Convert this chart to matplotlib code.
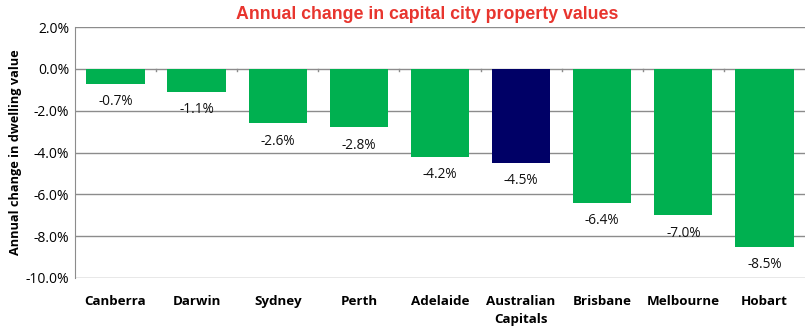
import matplotlib
matplotlib.use("Agg")
import matplotlib.pyplot as plt
from matplotlib.ticker import FuncFormatter

categories = ["Canberra", "Darwin", "Sydney", "Perth", "Adelaide", "Australian\nCapitals",
              "Brisbane", "Melbourne", "Hobart"]
values = [-0.7, -1.1, -2.6, -2.8, -4.2, -4.5, -6.4, -7.0, -8.5]
yticks = [2.0, 0.0, -2.0, -4.0, -6.0, -8.0, -10.0]

plt.rcParams['font.family'] = ['Open Sans', 'DejaVu Sans']

fig = plt.figure(figsize=(8.09, 3.27), dpi=100)
ax = fig.add_axes([0.0927, 0.150, 0.9023, 0.767])

colors = ["#00B050"] * len(values)
colors[categories.index("Australian\nCapitals")] = "#000066"
x = list(range(len(categories)))
ax.bar(x, values, width=0.72, color=colors, zorder=3)

for xi, v in zip(x, values):
    ax.text(xi, v - 0.5, f"{v:.1f}%", ha="center", va="top", fontsize=9.8, color="#111111", zorder=4)

ax.set_xlim(-0.5, len(categories) - 0.5)
ax.set_ylim(-10, 2)
ax.set_yticks(yticks)
ax.yaxis.set_major_formatter(FuncFormatter(lambda v, p: f"{v:.1f}%"))
ax.grid(axis="y", color="#8c8c8c", linewidth=1, zorder=0)
ax.set_axisbelow(True)

ax.set_xticks(x)
ax.set_xticklabels(categories, fontsize=9.6, fontweight="bold", linespacing=1.5)
ax.tick_params(axis="x", length=0, pad=12)
ax.tick_params(axis="y", length=0, labelsize=10, pad=4)

for s in ["top", "right", "bottom"]:
    ax.spines[s].set_visible(False)
ax.spines["left"].set_color("#8c8c8c")

for b in range(1, len(categories)):
    ax.plot([b - 0.5, b - 0.5], [0, -0.12], color="#8c8c8c", linewidth=1, zorder=2, clip_on=False)

ax.set_ylabel("Annual change in dwelling value", fontsize=9.2, fontweight="bold", labelpad=3)
fig.text(0.528, 0.957, "Annual change in capital city property values", ha="center", va="center",
         fontsize=12.8, fontweight="bold", color="#E8352E", family=["Liberation Sans", "DejaVu Sans"])

fig.savefig("out.png", dpi=100)
